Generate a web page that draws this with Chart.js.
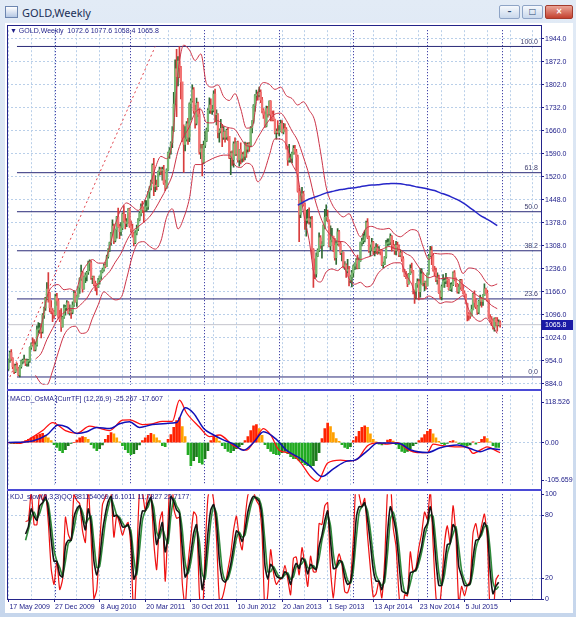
<!DOCTYPE html>
<html lang="en">
<head>
<meta charset="UTF-8">
<title>GOLD,Weekly</title>
<script src="https://cdn.jsdelivr.net/npm/chart.js"></script>
<style>
  html, body { margin: 0; padding: 0; }
  body {
    width: 576px; height: 617px; position: relative; overflow: hidden;
    background: linear-gradient(#e2ebf6, #c6d6ec);
    font-family: "Liberation Sans", Arial, sans-serif;
  }
  #client { position: absolute; left: 5px; top: 23px; width: 568px; height: 590px; background: #fff; }
  canvas { position: absolute; left: 0; }
  .ico { position: absolute; left: 5px; top: 6px; width: 11px; height: 10px; border: 1px solid #6d86b0; background: linear-gradient(#ffffff, #b5c8e4); }
  .ttl { position: absolute; left: 22px; top: 5px; font: 11px "Noto Sans", sans-serif; color: #1b2f55; }
  .wbtn { position: absolute; top: 5px; height: 12px; border: 1px solid #8ea4c6; border-radius: 2px;
          background: linear-gradient(#f6f9fd, #c9d8ec); font: bold 8px "DejaVu Sans", sans-serif; text-align: center; line-height: 12px; color: #304a74; }
  .wbtn.close { background: linear-gradient(#eaa598, #c4412f); color: #fff; border-color: #a23a2c; }
  .line { position: absolute; background: #24248a; }
  .sep { position: absolute; background: #4a4ad6; }
  .plabel { position: absolute; font: 7px "Liberation Sans", Arial, sans-serif; color: #1e1e88; white-space: pre; }
</style>
</head>
<body>
<div class="ico"></div>
<div class="ttl">GOLD,Weekly</div>
<div class="wbtn" style="left:499px;width:19px;">&#8211;</div>
<div class="wbtn" style="left:522px;width:19px;">&#9633;</div>
<div class="wbtn close" style="left:545px;width:26px;">&#215;</div>
<div id="client"></div>

<canvas id="priceChart" width="576" height="365" style="top:25px"></canvas>
<canvas id="macdChart" width="576" height="100" style="top:390px"></canvas>
<canvas id="kdjChart" width="576" height="128" style="top:489px"></canvas>

<div class="line" style="left:7px;top:25px;width:535px;height:1px"></div>
<div class="line" style="left:7px;top:25px;width:1px;height:575px"></div>
<div class="line" style="left:541px;top:25px;width:1px;height:575px"></div>
<div class="line" style="left:7px;top:599px;width:535px;height:1px"></div>
<div class="sep" style="left:7px;top:389px;width:535px;height:2px"></div>
<div class="sep" style="left:7px;top:489px;width:535px;height:2px"></div>

<div class="plabel" style="left:10px;top:27px">▼ GOLD,Weekly  1072.6 1077.6 1058.4 1065.8</div>
<div class="plabel" style="left:10px;top:395px">MACD_OsMA [CurrTF] (12,26,9) -25.267 -17.607</div>
<div class="plabel" style="left:10px;top:493px">KDJ_slow(9,3,3)QQ:381154069 16.1011 11.7827 22.7177</div>

<script>
// weekly bars, week 0 = 17 May 2009
const firstOpen = 930;
const closeW = [
  958, 980, 962, 937, 921, 940, 931, 911, 937, 953,
  955, 957, 947, 953, 955, 996, 1007, 1004, 990, 1004,
  1050, 1050, 1056, 1045, 1095, 1117, 1146, 1175, 1162, 1118,
  1109, 1104, 1096, 1152, 1139, 1091, 1081, 1059, 1089, 1117,
  1118, 1133, 1102, 1105, 1104, 1126, 1162, 1136, 1152, 1180,
  1208, 1227, 1176, 1212, 1218, 1227, 1256, 1256, 1210, 1210,
  1190, 1189, 1181, 1203, 1215, 1228, 1235, 1247, 1245, 1275,
  1297, 1318, 1345, 1369, 1325, 1358, 1397, 1367, 1352, 1363,
  1406, 1385, 1377, 1381, 1421, 1369, 1360, 1343, 1318, 1348,
  1360, 1388, 1408, 1429, 1420, 1418, 1427, 1429, 1474, 1486,
  1504, 1556, 1491, 1493, 1492, 1536, 1542, 1540, 1540, 1501,
  1486, 1542, 1594, 1601, 1625, 1660, 1744, 1852, 1828, 1876,
  1855, 1812, 1640, 1620, 1636, 1683, 1642, 1745, 1754, 1788,
  1724, 1685, 1746, 1713, 1597, 1606, 1565, 1617, 1631, 1665,
  1725, 1741, 1725, 1725, 1775, 1711, 1711, 1657, 1662, 1669,
  1642, 1658, 1642, 1663, 1645, 1579, 1592, 1573, 1622, 1591,
  1626, 1572, 1604, 1578, 1589, 1584, 1619, 1605, 1620, 1616,
  1671, 1691, 1739, 1770, 1774, 1773, 1780, 1757, 1724, 1712,
  1676, 1730, 1714, 1752, 1712, 1703, 1696, 1657, 1658, 1657,
  1662, 1684, 1658, 1667, 1666, 1609, 1572, 1576, 1578, 1592,
  1608, 1597, 1581, 1476, 1405, 1463, 1468, 1436, 1386, 1387,
  1392, 1383, 1389, 1297, 1234, 1222, 1277, 1295, 1333, 1310,
  1311, 1371, 1396, 1396, 1386, 1308, 1326, 1337, 1310, 1272,
  1315, 1351, 1314, 1287, 1288, 1243, 1250, 1231, 1235, 1203,
  1213, 1225, 1246, 1254, 1264, 1240, 1262, 1318, 1323, 1326,
  1339, 1379, 1334, 1294, 1303, 1318, 1293, 1300, 1300, 1290,
  1293, 1292, 1250, 1252, 1274, 1315, 1316, 1320, 1337, 1310,
  1307, 1294, 1310, 1305, 1280, 1287, 1268, 1231, 1216, 1215,
  1192, 1222, 1238, 1231, 1170, 1169, 1190, 1198, 1167, 1191,
  1222, 1195, 1195, 1185, 1223, 1277, 1293, 1279, 1234, 1227,
  1204, 1212, 1164, 1152, 1183, 1199, 1200, 1204, 1203, 1174,
  1178, 1189, 1225, 1205, 1190, 1168, 1181, 1201, 1173, 1163,
  1157, 1131, 1098, 1094, 1093, 1113, 1160, 1134, 1121, 1104,
  1138, 1145, 1137, 1156, 1176, 1162, 1141, 1088, 1081, 1076,
  1057, 1084, 1075, 1065, 1072.6, 1065.8
];
const highW = [
  960, 985, 989, 965, 945, 945, 948, 935, 940, 957,
  960, 972, 960, 960, 959, 998, 1010, 1025, 1020, 1012,
  1062, 1072, 1070, 1066, 1100, 1120, 1150, 1195, 1226, 1165,
  1140, 1115, 1110, 1160, 1162, 1145, 1110, 1115, 1092, 1127,
  1125, 1140, 1137, 1127, 1112, 1136, 1170, 1167, 1155, 1182,
  1210, 1249, 1230, 1215, 1225, 1230, 1261, 1265, 1262, 1215,
  1215, 1200, 1192, 1208, 1215, 1232, 1240, 1253, 1258, 1280,
  1300, 1320, 1350, 1388, 1375, 1360, 1399, 1424, 1375, 1380,
  1410, 1432, 1405, 1392, 1423, 1424, 1385, 1375, 1350, 1355,
  1372, 1392, 1413, 1437, 1445, 1427, 1448, 1447, 1476, 1490,
  1510, 1560, 1577, 1524, 1510, 1538, 1550, 1549, 1550, 1556,
  1510, 1545, 1596, 1610, 1628, 1675, 1780, 1880, 1912, 1890,
  1921, 1860, 1810, 1680, 1675, 1690, 1700, 1748, 1760, 1803,
  1795, 1740, 1762, 1750, 1730, 1620, 1620, 1630, 1660, 1670,
  1730, 1763, 1760, 1740, 1785, 1790, 1726, 1715, 1668, 1697,
  1682, 1675, 1660, 1667, 1670, 1645, 1598, 1600, 1628, 1640,
  1628, 1630, 1605, 1625, 1595, 1597, 1627, 1625, 1625, 1626,
  1675, 1693, 1742, 1773, 1787, 1781, 1796, 1788, 1765, 1730,
  1720, 1738, 1737, 1754, 1755, 1722, 1723, 1698, 1668, 1693,
  1678, 1695, 1693, 1685, 1683, 1672, 1615, 1620, 1590, 1596,
  1616, 1617, 1605, 1587, 1485, 1468, 1488, 1476, 1440, 1417,
  1420, 1425, 1397, 1399, 1300, 1268, 1287, 1299, 1348, 1340,
  1321, 1373, 1420, 1434, 1418, 1388, 1370, 1362, 1338, 1331,
  1323, 1361, 1356, 1322, 1293, 1290, 1260, 1253, 1267, 1245,
  1217, 1233, 1249, 1256, 1269, 1280, 1271, 1320, 1332, 1345,
  1355, 1384, 1392, 1338, 1311, 1331, 1322, 1304, 1315, 1312,
  1306, 1297, 1295, 1258, 1275, 1325, 1330, 1330, 1345, 1340,
  1325, 1312, 1322, 1320, 1311, 1296, 1290, 1275, 1236, 1230,
  1222, 1224, 1250, 1255, 1233, 1172, 1192, 1207, 1205, 1238,
  1238, 1225, 1200, 1200, 1225, 1282, 1307, 1306, 1285, 1245,
  1240, 1225, 1218, 1170, 1188, 1220, 1208, 1224, 1210, 1206,
  1194, 1195, 1228, 1232, 1210, 1193, 1190, 1205, 1205, 1188,
  1170, 1160, 1132, 1104, 1100, 1126, 1162, 1170, 1147, 1125,
  1141, 1157, 1150, 1158, 1191, 1178, 1172, 1142, 1097, 1091,
  1084, 1087, 1088, 1088, 1081, 1077.6
];
const lowW = [
  925, 950, 955, 930, 915, 918, 925, 908, 905, 932,
  945, 950, 940, 938, 938, 950, 990, 1000, 985, 985,
  1000, 1040, 1040, 1025, 1040, 1085, 1110, 1142, 1135, 1105,
  1100, 1075, 1085, 1095, 1125, 1085, 1075, 1045, 1058, 1085,
  1095, 1110, 1100, 1095, 1085, 1100, 1122, 1135, 1122, 1150,
  1162, 1202, 1166, 1175, 1195, 1200, 1220, 1232, 1205, 1192,
  1185, 1170, 1157, 1180, 1190, 1205, 1225, 1230, 1240, 1245,
  1270, 1290, 1310, 1340, 1315, 1320, 1332, 1365, 1330, 1340,
  1358, 1380, 1360, 1367, 1378, 1365, 1350, 1335, 1308, 1315,
  1342, 1355, 1385, 1400, 1410, 1380, 1415, 1415, 1420, 1455,
  1480, 1500, 1462, 1475, 1480, 1490, 1525, 1527, 1510, 1497,
  1478, 1485, 1540, 1577, 1590, 1610, 1660, 1742, 1705, 1800,
  1825, 1760, 1628, 1534, 1600, 1630, 1620, 1628, 1695, 1750,
  1715, 1670, 1680, 1705, 1590, 1576, 1523, 1560, 1610, 1628,
  1660, 1715, 1715, 1712, 1720, 1690, 1680, 1640, 1627, 1655,
  1613, 1635, 1627, 1635, 1632, 1576, 1527, 1555, 1550, 1585,
  1586, 1565, 1553, 1560, 1565, 1568, 1572, 1580, 1596, 1598,
  1612, 1655, 1685, 1722, 1757, 1756, 1766, 1748, 1717, 1700,
  1672, 1674, 1704, 1710, 1692, 1692, 1692, 1652, 1636, 1652,
  1646, 1660, 1655, 1652, 1660, 1605, 1555, 1565, 1565, 1563,
  1590, 1590, 1540, 1473, 1321, 1395, 1445, 1430, 1359, 1338,
  1378, 1375, 1365, 1270, 1180, 1207, 1212, 1275, 1290, 1300,
  1270, 1308, 1360, 1385, 1382, 1305, 1296, 1320, 1290, 1264,
  1251, 1310, 1307, 1281, 1262, 1240, 1236, 1211, 1224, 1185,
  1195, 1182, 1212, 1235, 1237, 1237, 1238, 1260, 1308, 1315,
  1320, 1338, 1330, 1288, 1278, 1293, 1283, 1277, 1285, 1282,
  1285, 1280, 1247, 1240, 1250, 1270, 1308, 1310, 1312, 1292,
  1300, 1282, 1280, 1294, 1275, 1275, 1260, 1228, 1213, 1207,
  1183, 1190, 1220, 1226, 1160, 1131, 1145, 1180, 1142, 1150,
  1190, 1185, 1170, 1175, 1185, 1220, 1275, 1250, 1230, 1216,
  1198, 1190, 1162, 1145, 1142, 1182, 1180, 1192, 1183, 1172,
  1170, 1168, 1186, 1200, 1183, 1163, 1162, 1175, 1170, 1160,
  1150, 1130, 1077, 1080, 1085, 1093, 1111, 1120, 1115, 1097,
  1100, 1125, 1120, 1125, 1155, 1160, 1137, 1085, 1074, 1063,
  1052, 1046, 1062, 1046, 1062, 1058.4
];

// Bollinger bands, read every 4 weeks from week 19
const bbFirstWeek = 19;
const bbStepWeeks = 4;
const bbUpper = [
  1010, 1062, 1150, 1184, 1189, 1173, 1176, 1169, 1219, 1251,
  1266, 1255, 1255, 1305, 1374, 1421, 1440, 1429, 1417, 1441,
  1487, 1546, 1583, 1576, 1630, 1840, 1925, 1910, 1878, 1898,
  1807, 1796, 1803, 1767, 1755, 1776, 1729, 1670, 1674, 1777,
  1810, 1805, 1789, 1796, 1770, 1761, 1741, 1751, 1725, 1692,
  1597, 1488, 1437, 1412, 1397, 1407, 1370, 1336, 1362, 1368,
  1361, 1359, 1362, 1344, 1336, 1348, 1358, 1353, 1305, 1266,
  1285, 1283, 1284, 1283, 1264, 1223, 1240, 1238, 1224, 1198,
  1185, 1191
];
const bbMiddle = [
  960, 978, 1020, 1054, 1085, 1103, 1116, 1115, 1129, 1147,
  1176, 1191, 1211, 1229, 1258, 1285, 1324, 1353, 1367, 1381,
  1397, 1422, 1453, 1486, 1526, 1600, 1644, 1674, 1718, 1728,
  1687, 1686, 1693, 1677, 1671, 1666, 1639, 1616, 1614, 1641,
  1670, 1695, 1713, 1716, 1694, 1661, 1631, 1581, 1525, 1452,
  1397, 1358, 1337, 1322, 1321, 1307, 1280, 1266, 1272, 1278,
  1291, 1299, 1306, 1300, 1296, 1284, 1274, 1249, 1225, 1210,
  1215, 1207, 1210, 1209, 1204, 1189, 1176, 1162, 1150, 1142,
  1125, 1115
];
const bbLower = [
  910, 885, 880, 924, 981, 1033, 1056, 1061, 1039, 1043,
  1086, 1127, 1167, 1153, 1142, 1149, 1208, 1277, 1317, 1321,
  1307, 1298, 1323, 1396, 1422, 1360, 1394, 1454, 1558, 1558,
  1567, 1576, 1583, 1587, 1587, 1556, 1549, 1562, 1554, 1505,
  1530, 1585, 1637, 1636, 1618, 1561, 1521, 1411, 1325, 1212,
  1197, 1228, 1237, 1232, 1245, 1207, 1190, 1196, 1182, 1188,
  1221, 1239, 1250, 1256, 1256, 1220, 1190, 1145, 1145, 1154,
  1145, 1131, 1136, 1135, 1144, 1155, 1112, 1086, 1076, 1086,
  1065, 1039
];

// long moving average (blue), every 4 weeks from week 203
const maFirstWeek = 203;
const maLong = [
  1433, 1443, 1452, 1458, 1464, 1471, 1475, 1479, 1482, 1485,
  1487, 1490, 1493, 1495, 1496, 1498, 1499, 1500, 1499, 1496,
  1493, 1489, 1486, 1482, 1478, 1471, 1465, 1458, 1450, 1440,
  1428, 1415, 1402, 1392, 1382, 1370
];

// fibonacci retracement
const fibPrices = [905, 1145, 1293, 1413, 1533, 1921];
const fibNames = ['0.0', '23.6', '38.2', '50.0', '61.8', '100.0'];
const fibStartWeek = 6;
const fibTrendWeeks = [1, 103];
const fibTrendPrices = [905, 1921];
const lastPrice = 1065.8;

const yearStartWeeks = [33, 85, 137, 190, 242, 294, 346];
const dateLabels = ['17 May 2009', '27 Dec 2009', '8 Aug 2010', '20 Mar 2011', '30 Oct 2011', '10 Jun 2012',
                    '20 Jan 2013', '1 Sep 2013', '13 Apr 2014', '23 Nov 2014', '5 Jul 2015'];
const priceTickLabels = ['884.0', '954.0', '1024.0', '1096.0', '1166.0', '1236.0', '1308.0', '1378.0',
                         '1448.0', '1520.0', '1590.0', '1660.0', '1732.0', '1802.0', '1872.0', '1944.0'];

// MACD panel
const macdWeeks = [0, 8, 17, 24, 31, 40, 48, 57, 62, 71, 80, 85, 94, 101, 108, 115, 120, 125, 134, 141,
  148, 158, 167, 174, 179, 184, 190, 198, 205, 212, 217, 224, 233, 240, 245, 252, 259, 266, 273, 280,
  287, 294, 298, 305, 315, 322, 326, 333, 336, 343, 345];
const macdMain = [0, -2, 14, 30, 50, 30, 23, 41, 38, 30, 56, 57, 45, 47, 53, 53, 106, 74, 39, 15,
  19, -8, -19, 12, 35, 19, -19, -27, -50, -85, -97, -51, -44, -46, -41, -8, -1, -4, 0, -17,
  -25, -25, -4, -8, -11, -11, -27, -15, -11, -22, -25.267];
const signalWeeks = [0, 17, 27, 35, 41, 48, 55, 62, 71, 78, 85, 92, 101, 111, 118, 124, 130, 137, 144, 150,
  158, 165, 172, 179, 188, 195, 205, 212, 220, 228, 237, 243, 252, 259, 268, 275, 282, 294, 303, 315,
  324, 331, 338, 345];
const macdSignal = [0, 4, 19, 44, 39, 23, 27, 38, 35, 47, 52, 38, 45, 48, 50, 87, 73, 35, 19, 8,
  -4, -19, 0, 27, 8, -19, -40, -60, -85, -66, -47, -44, -20, -1, -1, -3, -18, -25, -13, -6,
  -15, -23, -15, -17.607];
const osmaStepWeeks = 2;
const osmaHist = [
  0, -2, -3, -3, -2, 2, 5, 8, 12, 15,
  18, 21, 23, 18, 12, 5, -5, -12, -20, -25,
  -18, -8, -2, 0, 6, 12, 15, 13, 8, -5,
  -14, -20, -15, -6, 8, 18, 25, 22, 12, 2,
  -8, -18, -25, -30, -28, -18, -6, 5, 12, 18,
  23, 20, 12, 5, -8, -10, 8, 20, 38, 55,
  62, 40, 15, -30, -58, -45, -35, -50, -54, -40,
  -20, 5, 15, 12, 4, -8, -15, -22, -25, -20,
  -15, -10, -5, 5, 15, 30, 42, 45, 35, 18,
  -5, -15, -22, -28, -30, -30, -25, -22, -28, -35,
  -40, -40, -45, -50, -55, -58, -60, -58, -45, -25,
  10, 35, 49, 40, 25, 10, 3, -5, -12, -15,
  -10, 5, 15, 28, 38, 42, 38, 22, 8, 2,
  -4, -6, -3, 6, 8, 4, -5, -15, -22, -25,
  -22, -15, -8, -3, 5, 12, 20, 28, 33, 22,
  12, 3, -3, -5, -2, 3, 5, 2, -3, -5,
  -7, -8, -6, 2, -4, 0, 8, 15, 10, 2,
  -8, -12, -12
];
const macdTop = 118.526;
const macdBottom = -105.659;
const macdTickLabels = ['118.526', '0.00', '-105.659'];

// KDJ panel, every 2 weeks from week 12
const kdjFirstWeek = 12;
const kdjStepWeeks = 2;
const kdjK = [
  62, 69, 86, 79, 75, 89, 92, 97, 85, 57,
  36, 36, 23, 21, 50, 56, 56, 78, 86, 89,
  77, 66, 86, 72, 36, 23, 38, 64, 81, 93,
  98, 79, 80, 76, 69, 69, 71, 59, 19, 27,
  66, 84, 84, 92, 97, 76, 52, 63, 73, 45,
  60, 98, 93, 85, 82, 49, 21, 27, 43, 63,
  71, 38, 9, 28, 63, 85, 90, 74, 37, 19,
  16, 22, 33, 50, 65, 62, 55, 66, 83, 93,
  98, 96, 93, 77, 32, 19, 33, 29, 22, 20,
  20, 26, 23, 14, 27, 34, 29, 39, 36, 24,
  33, 30, 28, 50, 61, 75, 84, 56, 29, 30,
  37, 35, 21, 14, 16, 37, 76, 88, 88, 92,
  76, 53, 28, 17, 17, 9, 23, 63, 88, 78,
  64, 35, 8, 6, 5, 25, 26, 28, 39, 51,
  67, 72, 88, 70, 36, 13, 13, 33, 52, 53,
  71, 66, 31, 22, 13, 13, 15, 39, 56, 57,
  64, 73, 66, 27, 5, 12, 16
];
const kdjD = [
  56, 66, 78, 83, 77, 82, 91, 95, 91, 71,
  47, 36, 30, 22, 36, 53, 56, 67, 82, 88,
  83, 72, 76, 79, 54, 30, 31, 51, 73, 87,
  96, 89, 80, 78, 73, 69, 70, 65, 39, 23,
  47, 75, 84, 88, 95, 87, 64, 58, 68, 59,
  53, 79, 96, 89, 84, 66, 35, 24, 35, 53,
  67, 55, 24, 19, 46, 74, 88, 82, 56, 28,
  18, 19, 28, 42, 58, 64, 59, 61, 75, 88,
  96, 97, 95, 85, 55, 26, 26, 31, 26, 21,
  20, 23, 25, 19, 21, 31, 32, 34, 38, 30,
  29, 32, 29, 39, 56, 68, 80, 70, 43, 30,
  34, 36, 28, 18, 15, 27, 57, 82, 88, 90,
  84, 65, 41, 23, 17, 13, 16, 43, 76, 83,
  71, 50, 22, 7, 6, 15, 26, 27, 34, 45,
  59, 70, 80, 79, 53, 25, 13, 23, 43, 53,
  62, 69, 49, 27, 18, 13, 14, 27, 48, 57,
  61, 69, 70, 47, 16, 9, 12
];
const kdjJ = [
  74, 75, 102, 71, 71, 103, 94, 101, 73, 29,
  14, 36, 9, 19, 78, 62, 56, 100, 94, 91,
  65, 54, 106, 58, 0, 9, 52, 90, 97, 105,
  102, 59, 80, 72, 61, 69, 73, 47, -21, 35,
  104, 102, 84, 100, 101, 54, 28, 73, 83, 17,
  74, 136, 87, 77, 78, 15, -7, 33, 59, 83,
  79, 4, -21, 46, 97, 107, 94, 58, -1, 1,
  12, 28, 43, 66, 79, 58, 47, 76, 99, 103,
  102, 94, 89, 61, -14, 5, 47, 25, 14, 18,
  20, 32, 19, 4, 39, 40, 23, 49, 32, 12,
  41, 26, 26, 72, 71, 89, 92, 28, 1, 30,
  43, 33, 7, 6, 18, 57, 114, 100, 88, 96,
  60, 29, 2, 5, 17, 1, 37, 103, 112, 68,
  50, 5, -20, 4, 3, 45, 26, 30, 49, 63,
  83, 76, 104, 52, 2, -11, 13, 53, 70, 53,
  89, 60, -5, 12, 3, 13, 17, 63, 72, 57,
  70, 81, 58, -13, -17, 18, 23
];
const kdjTickValues = [0, 20, 80, 100];

// ---------- drawing ----------
const FONT = '"Liberation Sans", Arial, sans-serif';
const NAVY = '#20208a';
const GRID = '#b9cfe9';
const X_MIN = -1, X_MAX = 373.7, GRID_STEP = 16, LABEL_STEP = 32;

const openW = closeW.map((c, i) => (i === 0 ? firstOpen : closeW[i - 1]));
const rising = closeW.map((c, i) => c >= openW[i]);

const stepped = (first, step, values) => values.map((v, i) => ({ x: first + i * step, y: v }));
const paired = (xs, ys) => xs.map((x, i) => ({ x: x, y: ys[i] }));

function lineSet(data, color, width, extra) {
  return Object.assign({
    type: 'line', data: data, borderColor: color, borderWidth: width,
    pointRadius: 0, fill: false, cubicInterpolationMode: 'monotone'
  }, extra || {});
}

function xAxis(showLabels) {
  return {
    type: 'linear', min: X_MIN, max: X_MAX, offset: false,
    afterBuildTicks: s => {
      const t = [];
      for (let v = 0; v <= X_MAX; v += GRID_STEP) t.push({ value: v });
      s.ticks = t;
    },
    afterFit: s => { s.height = showLabels ? 18 : 0; },
    grid: {
      offset: false, color: GRID, lineWidth: 1, drawTicks: showLabels, tickLength: 3,
      tickColor: c => (c.tick && c.tick.value % LABEL_STEP === 0 ? NAVY : 'rgba(0,0,0,0)')
    },
    border: { display: false, dash: [2, 2] },
    ticks: {
      display: showLabels, autoSkip: false, maxRotation: 0, align: 'start', labelOffset: 1, padding: 1,
      font: { size: 7, family: FONT }, color: NAVY,
      callback: v => (v % LABEL_STEP === 0 ? (dateLabels[v / LABEL_STEP] || '') : '')
    }
  };
}

function yAxis(min, max, tickValues, labelOf, gridColor) {
  return {
    position: 'right', min: min, max: max,
    afterFit: s => { s.width = 35; },
    afterBuildTicks: s => { s.ticks = tickValues(s).map(v => ({ value: v })); },
    grid: { color: gridColor, drawTicks: true, tickLength: 3, tickColor: NAVY, tickWidth: 1 },
    border: { display: false, dash: [2, 2] },
    ticks: { padding: 1, autoSkip: false, font: { size: 7, family: FONT }, color: NAVY, callback: labelOf }
  };
}

const yearLines = {
  id: 'yearLines',
  beforeDatasetsDraw(chart) {
    const { ctx, chartArea: a, scales: { x } } = chart;
    ctx.save();
    ctx.strokeStyle = '#1c1c96';
    ctx.lineWidth = 1;
    ctx.setLineDash([1, 2]);
    yearStartWeeks.forEach(w => {
      const px = Math.round(x.getPixelForValue(w)) + 0.5;
      if (px < a.left || px > a.right) return;
      ctx.beginPath(); ctx.moveTo(px, a.top); ctx.lineTo(px, a.bottom); ctx.stroke();
    });
    ctx.restore();
  }
};

const fibText = {
  id: 'fibText',
  afterDatasetsDraw(chart) {
    const { ctx, chartArea: a, scales: { y } } = chart;
    ctx.save();
    ctx.font = '7px ' + FONT;
    ctx.fillStyle = '#404070';
    ctx.textAlign = 'right';
    ctx.textBaseline = 'bottom';
    fibPrices.forEach((p, i) => ctx.fillText(fibNames[i], a.right - 3, y.getPixelForValue(p) - 1));
    ctx.restore();
  }
};

const priceBox = {
  id: 'priceBox',
  afterDraw(chart) {
    const { ctx, chartArea: a, scales: { y } } = chart;
    const py = Math.round(y.getPixelForValue(lastPrice));
    ctx.save();
    ctx.fillStyle = '#1a1aa6';
    ctx.fillRect(a.right + 1, py - 5, 31, 10);
    ctx.fillStyle = '#ffffff';
    ctx.font = '7px ' + FONT;
    ctx.textBaseline = 'middle';
    ctx.fillText(lastPrice.toFixed(1), a.right + 4, py + 0.5);
    ctx.restore();
  }
};

const common = {
  responsive: false, animation: false, events: [], devicePixelRatio: 1,
  plugins: { legend: { display: false }, tooltip: { enabled: false } }
};

// price panel
const priceSets = [];
fibPrices.forEach(p => priceSets.push(lineSet([{ x: fibStartWeek, y: p }, { x: X_MAX, y: p }], '#2a2a78', 1, { order: 20 })));
priceSets.push(lineSet([{ x: X_MIN, y: lastPrice }, { x: X_MAX, y: lastPrice }], '#c4c4cc', 1, { order: 19 }));
priceSets.push(lineSet(paired(fibTrendWeeks, fibTrendPrices), '#e0404a', 1, { borderDash: [2, 3], order: 18 }));
priceSets.push({
  type: 'bar', data: closeW.map((c, i) => ({ x: i, y: [lowW[i], highW[i]] })),
  backgroundColor: rising.map(u => (u ? '#2f6a34' : '#d83c3c')),
  barThickness: 1, grouped: false, borderWidth: 0, order: 6
});
priceSets.push({
  type: 'bar', data: closeW.map((c, i) => ({ x: i, y: [openW[i], c] })),
  backgroundColor: rising.map(u => (u ? '#79b873' : '#f27373')),
  barThickness: 1.6, minBarLength: 1, grouped: false, borderWidth: 0, order: 5
});
priceSets.push(lineSet(stepped(bbFirstWeek, bbStepWeeks, bbUpper), '#cc3448', 1, { order: 3 }));
priceSets.push(lineSet(stepped(bbFirstWeek, bbStepWeeks, bbMiddle), '#cc3448', 1, { order: 3 }));
priceSets.push(lineSet(stepped(bbFirstWeek, bbStepWeeks, bbLower), '#cc3448', 1, { order: 3 }));
priceSets.push(lineSet(stepped(maFirstWeek, bbStepWeeks, maLong), '#2626c8', 1.5, { order: 2 }));

new Chart(document.getElementById('priceChart'), {
  type: 'bar',
  data: { datasets: priceSets },
  options: Object.assign({}, common, {
    layout: { padding: { left: 7, top: 1, bottom: 1, right: 0 } },
    scales: {
      x: xAxis(false),
      y: yAxis(881, 1971,
        () => priceTickLabels.map((_, i) => 884 + i * (1944 - 884) / (priceTickLabels.length - 1)),
        (v, i) => priceTickLabels[i], GRID)
    }
  }),
  plugins: [yearLines, fibText, priceBox]
});

// MACD panel
const histColors = osmaHist.map((v, i) => {
  const prev = i ? osmaHist[i - 1] : 0;
  if (v >= 0) return v >= prev ? '#ff2200' : '#ffa000';
  return v <= prev ? '#22aa22' : '#1c7c1c';
});
new Chart(document.getElementById('macdChart'), {
  type: 'bar',
  data: {
    datasets: [
      { type: 'bar', data: stepped(0, osmaStepWeeks, osmaHist), backgroundColor: histColors,
        barThickness: 2, grouped: false, borderWidth: 0, order: 5 },
      lineSet(paired(macdWeeks, macdMain), '#ff1010', 1.3, { order: 2 }),
      lineSet(paired(signalWeeks, macdSignal), '#1010b8', 1.5, { order: 1 })
    ]
  },
  options: Object.assign({}, common, {
    layout: { padding: { left: 7, top: 2, bottom: 1, right: 0 } },
    scales: {
      x: xAxis(false),
      y: yAxis(macdBottom, macdTop,
        s => { const span = s.max - s.min; return [s.max - span * 0.08, 0, s.min + span * 0.05]; },
        (v, i) => macdTickLabels[i],
        c => (c.index === 1 ? GRID : 'rgba(0,0,0,0)'))
    }
  }),
  plugins: [yearLines]
});

// KDJ panel
new Chart(document.getElementById('kdjChart'), {
  type: 'line',
  data: {
    datasets: [
      lineSet(stepped(kdjFirstWeek, kdjStepWeeks, kdjJ), '#ee1111', 1.2, { order: 3, cubicInterpolationMode: 'default', tension: 0.2 }),
      lineSet(stepped(kdjFirstWeek, kdjStepWeeks, kdjD), '#2f8a3a', 1.6, { order: 2, cubicInterpolationMode: 'default', tension: 0.2 }),
      lineSet(stepped(kdjFirstWeek, kdjStepWeeks, kdjK), '#141414', 1.6, { order: 1, cubicInterpolationMode: 'default', tension: 0.2 })
    ]
  },
  options: Object.assign({}, common, {
    layout: { padding: { left: 7, top: 2, bottom: 0, right: 0 } },
    scales: {
      x: xAxis(true),
      y: yAxis(0, 100, () => kdjTickValues, v => String(v),
        c => (c.tick && (c.tick.value === 20 || c.tick.value === 80) ? GRID : 'rgba(0,0,0,0)'))
    }
  }),
  plugins: [yearLines]
});
</script>
</body>
</html>
